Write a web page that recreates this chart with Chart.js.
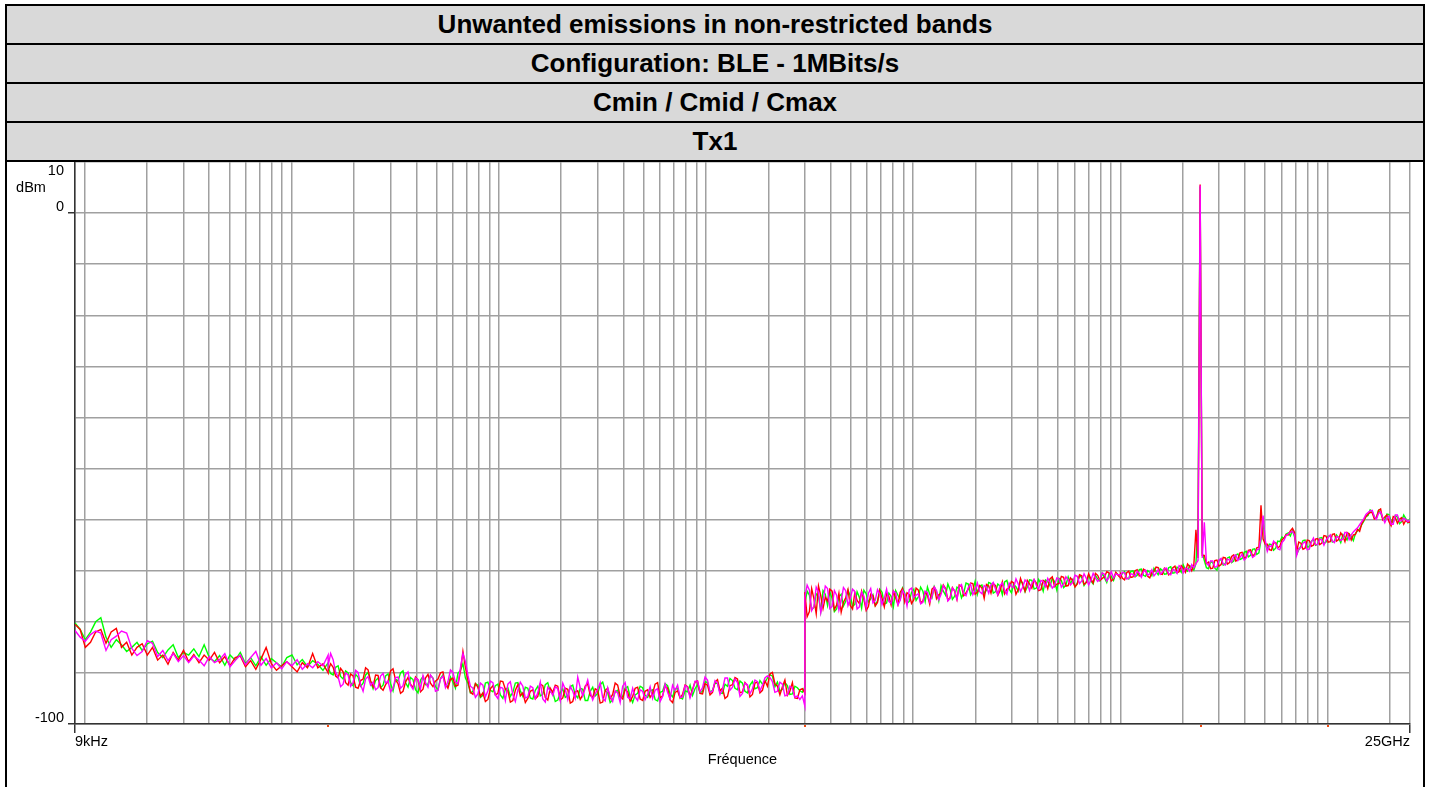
<!DOCTYPE html>
<html>
<head>
<meta charset="utf-8">
<title>Unwanted emissions in non-restricted bands</title>
<script src="https://cdn.jsdelivr.net/npm/chart.js@4.4.0/dist/chart.umd.min.js"></script>
<style>
  html, body { margin: 0; padding: 0; background: #fff; }
  body { width: 1431px; height: 787px; overflow: hidden; position: relative; font-family: "Liberation Sans", Arial, sans-serif; }
  #frame { position: absolute; left: 5px; top: 4px; width: 1420px; box-sizing: border-box; border: 2px solid #000; border-bottom: none; }
  .row { height: 37px; line-height: 37px; border-bottom: 2px solid #000; background: #d9d9d9; text-align: center; font-weight: bold; font-size: 26px; color: #000; white-space: nowrap; }
  #plot { position: relative; width: 1416px; height: 625px; }
</style>
</head>
<body>
<div id="frame">
  <div class="row">Unwanted emissions in non-restricted bands</div>
  <div class="row">Configuration: BLE - 1MBits/s</div>
  <div class="row">Cmin / Cmid / Cmax</div>
  <div class="row">Tx1</div>
  <div id="plot"><canvas id="spectrum"></canvas></div>
</div>
<script>
// Sweep bands (Hz): each band is a log-spaced sweep from start to stop
const BAND_START = [9e3, 150e3, 30e6, 1e9];
const BAND_STOP = [150e3, 30e6, 1e9, 25e9];

// Measured levels (dBm), one array per band and per channel
const GREEN_A = [
  -80.2, -81.5, -83.5, -82.0, -80.0, -79.2, -83.0, -85.0, -83.5, -84.5,
  -85.8, -85.0, -84.0, -85.6, -84.3, -83.8, -86.0, -87.0, -85.5, -84.5,
  -87.0, -86.0, -86.5, -85.3, -86.8, -84.5, -87.0, -87.8, -86.6, -88.5,
  -86.5, -87.5, -86.0, -88.2, -87.0, -88.6, -86.8, -88.5, -87.2, -88.0,
  -88.8, -87.0, -86.5, -88.4, -87.4, -88.8, -87.6, -88.3, -89.5, -88.0
];
const RED_A = [
  -80.5, -81.5, -85.0, -84.0, -82.0, -81.5, -84.2, -82.0, -81.3, -85.0,
  -84.0, -86.5, -85.0, -84.3, -86.5, -85.0, -87.5, -86.5, -88.3, -86.0,
  -87.5, -85.6, -87.8, -86.4, -88.0, -86.5, -87.5, -86.0, -88.0, -86.8,
  -88.6, -87.0, -86.7, -88.8, -87.6, -89.3, -87.3, -85.0, -88.2, -89.5,
  -88.6, -87.8, -88.8, -89.8, -88.0, -89.0, -86.2, -89.0, -88.2, -90.0
];
const MAG_A = [
  -81.7, -83.0, -83.8, -82.5, -81.8, -82.2, -85.6, -83.5, -82.8, -81.8,
  -82.2, -85.2, -86.6, -85.8, -83.7, -84.2, -86.8, -85.6, -87.6, -86.2,
  -87.8, -86.6, -88.0, -86.7, -87.5, -88.6, -86.8, -88.0, -87.4, -86.2,
  -88.8, -87.6, -86.5, -88.4, -87.0, -85.8, -88.5, -87.2, -89.0, -88.0,
  -89.2, -87.8, -88.6, -87.4, -89.3, -88.2, -89.0, -87.8, -88.6, -86.5
];

const GREEN_B = [
  -89.0, -90.1, -90.4, -88.9, -88.6, -90.7, -91.2, -89.6, -90.0, -91.9,
  -92.5, -90.3, -90.8, -92.6, -92.0, -90.4, -89.9, -91.7, -93.1, -91.5,
  -91.0, -92.9, -92.4, -90.6, -90.2, -92.1, -93.5, -91.2, -91.6, -90.0,
  -89.6, -91.9, -92.8, -90.9, -91.3, -93.3, -93.9, -91.4, -90.7, -92.3,
  -92.2, -90.5, -91.0, -92.7, -93.3, -91.1, -90.4, -92.5, -92.6, -90.8,
  -91.8, -93.0, -90.1, -89.5, -88.2, -91.0, -92.0, -93.9, -93.6, -92.1,
  -92.4, -94.8, -94.4, -92.0, -91.8, -93.4, -93.7, -92.5, -92.2, -94.3,
  -95.0, -93.2, -92.9, -94.6, -93.8, -92.0, -91.9, -93.5, -94.6, -92.8,
  -93.0, -94.9, -95.1, -93.4, -92.6, -94.5, -94.2, -92.3, -91.9, -93.7,
  -93.8, -95.6, -95.3, -93.9, -93.1, -94.8, -94.5, -92.7, -92.4, -94.3,
  -94.9, -93.0, -93.2, -95.4, -95.4, -93.6, -92.8, -94.5, -94.0, -92.3,
  -91.8, -93.5, -93.9, -95.8, -95.2, -93.7, -93.4, -94.9, -94.6, -93.0,
  -92.7, -94.6, -95.8, -94.3, -94.0, -92.6, -92.9, -94.4, -94.8, -93.5,
  -93.3, -95.2, -95.5, -93.8, -93.6, -92.1, -92.5, -94.1, -94.7, -93.2,
  -93.0, -94.8, -95.1, -93.5, -93.7, -92.4, -94.4, -93.1, -92.3, -93.9,
  -93.6, -91.7, -91.9, -93.8, -93.4, -92.0, -92.1, -93.9, -94.0, -92.2,
  -92.6, -91.1, -91.5, -93.0, -93.3, -91.6, -92.0, -93.6, -93.9, -92.4,
  -91.7, -93.1, -92.9, -91.5, -92.2, -91.9, -91.0, -90.4, -90.6, -92.7,
  -91.8, -93.6, -93.2, -91.9, -92.5, -94.2, -94.1, -92.6, -92.9, -93.5,
  -93.8, -92.7
];
const RED_B = [
  -89.6, -88.2, -88.9, -90.6, -91.0, -89.1, -89.8, -91.9, -92.4, -90.2,
  -90.6, -92.8, -93.0, -91.5, -91.2, -89.0, -89.4, -91.6, -92.7, -90.4,
  -90.5, -92.9, -93.4, -92.3, -91.7, -89.6, -89.2, -91.4, -92.1, -94.0,
  -93.6, -91.8, -90.9, -92.2, -92.9, -90.8, -91.4, -93.7, -93.2, -91.0,
  -90.3, -92.0, -92.7, -91.6, -91.2, -90.0, -89.8, -92.2, -93.0, -91.3,
  -91.0, -92.6, -92.4, -89.7, -85.8, -88.9, -91.4, -93.8, -94.2, -92.1,
  -92.8, -94.6, -93.9, -95.6, -95.2, -93.1, -92.5, -94.3, -94.0, -91.6,
  -91.7, -93.2, -93.5, -95.7, -95.4, -93.4, -92.3, -94.5, -93.9, -95.8,
  -95.0, -93.6, -93.3, -95.1, -94.6, -92.2, -92.5, -94.8, -95.3, -93.0,
  -93.8, -92.4, -92.6, -95.3, -94.9, -93.0, -93.2, -95.9, -95.6, -93.7,
  -93.5, -95.2, -94.3, -92.6, -92.1, -94.4, -94.8, -93.1, -93.4, -95.9,
  -95.7, -93.4, -93.0, -95.0, -94.2, -92.0, -92.4, -94.6, -95.1, -93.2,
  -93.7, -95.5, -94.6, -93.0, -92.8, -95.1, -95.4, -93.6, -93.3, -94.8,
  -94.0, -92.2, -91.9, -94.9, -94.5, -92.6, -93.0, -95.3, -95.8, -93.8,
  -93.5, -94.9, -94.2, -92.4, -92.7, -94.6, -93.2, -91.8, -91.6, -94.0,
  -94.1, -92.1, -92.4, -94.3, -93.8, -91.8, -91.3, -93.5, -93.0, -95.0,
  -94.6, -92.5, -92.3, -90.9, -91.2, -93.9, -93.7, -91.9, -92.5, -94.7,
  -94.2, -92.0, -91.8, -93.9, -93.4, -91.5, -92.6, -90.2, -89.9, -92.1,
  -92.6, -94.3, -92.7, -91.4, -94.4, -93.6, -91.9, -94.9, -95.0, -93.3,
  -93.1, -94.0
];
const MAG_B = [
  -88.6, -86.2, -87.4, -89.9, -90.8, -92.7, -92.2, -90.0, -90.4, -92.6,
  -91.9, -89.5, -89.9, -92.3, -93.6, -91.2, -90.7, -92.4, -91.8, -93.3,
  -92.9, -90.6, -90.1, -92.0, -91.6, -93.7, -93.0, -90.9, -90.8, -93.0,
  -92.5, -90.3, -89.8, -92.4, -93.2, -91.0, -91.3, -93.1, -90.5, -91.9,
  -92.8, -90.4, -91.1, -93.6, -93.4, -91.2, -90.6, -92.9, -91.7, -89.4,
  -89.9, -91.8, -92.1, -89.0, -86.2, -87.8, -90.5, -92.6, -93.0, -94.8,
  -94.1, -92.0, -92.4, -94.7, -93.5, -91.6, -91.9, -94.3, -95.0, -92.8,
  -93.0, -95.4, -92.2, -91.7, -94.3, -95.6, -93.4, -91.8, -92.6, -94.9,
  -94.7, -92.6, -92.9, -95.0, -93.9, -91.8, -95.1, -95.7, -92.8, -93.5,
  -94.4, -92.7, -93.1, -95.4, -92.0, -93.2, -95.2, -92.6, -93.6, -95.0,
  -90.8, -92.9, -94.5, -93.0, -91.4, -93.7, -95.3, -94.1, -93.2, -91.9,
  -94.9, -95.5, -92.9, -94.6, -95.6, -93.5, -93.9, -95.8, -92.6, -91.9,
  -94.8, -95.1, -93.0, -94.7, -95.4, -93.3, -93.6, -95.2, -94.2, -92.7,
  -95.0, -93.4, -93.1, -95.6, -94.6, -92.2, -93.8, -95.1, -92.4, -93.4,
  -92.4, -94.8, -94.7, -92.5, -92.8, -94.9, -93.5, -91.6, -91.6, -93.7,
  -92.9, -90.8, -91.4, -93.8, -93.6, -91.5, -92.0, -94.2, -93.2, -91.0,
  -91.0, -93.4, -92.8, -91.2, -91.9, -94.6, -94.0, -92.0, -92.3, -94.1,
  -93.1, -91.4, -91.7, -93.5, -92.4, -91.0, -90.6, -90.9, -91.7, -93.8,
  -93.6, -91.8, -92.2, -94.5, -94.3, -92.6, -93.0, -94.8, -94.5, -95.2,
  -94.5, -96.5
];

const GREEN_C = [
  -76.5, -74.0, -74.8, -77.6, -77.2, -74.5, -75.0, -77.9, -73.9, -74.6,
  -76.8, -74.2, -75.4, -78.0, -77.5, -75.1, -74.6, -76.9, -76.0, -73.8,
  -74.9, -77.0, -76.6, -74.1, -75.2, -77.3, -73.8, -74.5, -76.1, -75.5,
  -74.7, -76.8, -75.9, -73.6, -74.2, -76.5, -76.3, -74.4, -75.0, -77.0,
  -73.9, -74.8, -75.6, -73.4, -74.4, -76.4, -76.0, -74.2, -73.6, -75.8,
  -75.1, -73.2, -74.0, -76.0, -73.2, -74.6, -75.3, -73.1, -74.1, -75.9,
  -72.9, -74.0, -74.8, -72.6, -73.7, -75.6, -75.0, -73.2, -73.5, -75.3,
  -74.3, -72.4, -72.6, -74.7, -73.9, -72.1, -74.6, -73.0, -72.8, -74.5,
  -73.8, -72.3, -72.5, -74.4, -74.1, -72.6, -73.0, -74.7, -72.2, -71.9,
  -73.6, -74.3, -72.7, -73.1, -74.0, -72.0, -72.4, -74.1, -73.2, -71.8,
  -71.9, -73.6, -73.4, -71.7, -72.6, -74.0, -71.8, -72.1, -73.0, -71.5,
  -72.1, -73.8, -71.5, -71.9, -73.3, -72.8, -71.2, -72.5, -71.7, -73.1,
  -72.5, -71.0, -71.3, -72.9, -72.2, -70.8, -72.0, -72.6, -70.9, -71.6,
  -72.0, -70.5, -71.4, -72.3, -70.6, -71.1, -71.9, -70.4, -70.8, -71.2
];
const RED_C = [
  -74.2, -79.0, -78.0, -73.5, -75.5, -78.4, -73.0, -74.9, -77.4, -75.2,
  -75.9, -73.6, -74.0, -77.6, -76.7, -74.4, -78.1, -76.2, -75.3, -73.7,
  -76.8, -77.5, -74.3, -75.8, -76.4, -74.0, -75.6, -77.8, -77.0, -74.6,
  -74.9, -76.9, -76.2, -73.9, -75.4, -77.1, -74.5, -75.0, -76.7, -74.1,
  -75.3, -76.6, -74.2, -73.5, -76.1, -74.3, -74.7, -76.4, -75.7, -73.4,
  -73.8, -76.3, -75.9, -74.2, -74.8, -76.5, -73.6, -73.2, -75.5, -74.7,
  -74.4, -72.8, -73.5, -75.8, -75.2, -73.3, -74.0, -75.6, -72.8, -73.1,
  -74.9, -74.3, -73.6, -72.4, -72.5, -74.6, -74.2, -72.9, -73.4, -75.4,
  -72.7, -73.0, -74.4, -72.5, -72.9, -74.8, -73.9, -72.2, -74.5, -73.6,
  -73.4, -72.1, -72.4, -74.6, -73.7, -71.5, -72.8, -74.0, -71.9, -72.6,
  -73.4, -71.8, -72.4, -73.9, -73.7, -71.9, -72.2, -73.5, -71.6, -71.2,
  -73.1, -72.6, -72.5, -71.1, -71.3, -73.0, -72.9, -71.4, -71.9, -73.2,
  -72.6, -70.8, -71.0, -72.7, -72.3, -70.6, -71.6, -72.4, -70.5, -70.9,
  -71.9, -71.5, -71.2, -70.2, -70.4, -72.0, -71.6, -70.3, -70.9, -71.4
];
const MAG_C = [
  -75.2, -72.8, -73.8, -77.8, -76.9, -73.2, -74.1, -78.2, -76.0, -73.0,
  -73.5, -77.4, -77.0, -73.9, -74.8, -77.7, -75.9, -73.3, -73.9, -76.8,
  -75.5, -73.6, -74.1, -77.5, -77.1, -74.2, -75.0, -77.2, -74.4, -73.5,
  -76.3, -75.8, -73.7, -74.6, -76.6, -75.4, -73.6, -76.0, -76.4, -74.0,
  -74.3, -76.7, -75.8, -73.9, -74.6, -76.9, -73.7, -73.4, -75.2, -74.8,
  -74.5, -76.5, -76.2, -74.0, -74.3, -76.1, -75.0, -73.2, -73.9, -75.7,
  -74.6, -72.9, -73.7, -75.9, -75.4, -73.4, -73.9, -75.6, -73.1, -72.7,
  -74.5, -74.9, -73.3, -72.6, -74.7, -73.8, -72.4, -74.1, -74.5, -72.9,
  -73.2, -74.4, -72.8, -72.3, -73.6, -74.7, -72.9, -72.4, -73.8, -74.6,
  -72.4, -73.1, -73.3, -71.6, -72.6, -74.1, -73.2, -71.8, -72.3, -73.9,
  -72.5, -71.7, -72.9, -73.6, -71.9, -72.1, -73.1, -71.5, -72.3, -73.4,
  -72.9, -71.4, -71.6, -73.2, -72.6, -71.2, -71.8, -72.8, -72.3, -70.9,
  -71.1, -72.5, -72.0, -70.6, -71.5, -72.8, -71.9, -70.5, -71.4, -72.1,
  -71.7, -70.4, -70.7, -72.0, -71.3, -70.2, -71.4, -70.6, -70.8, -70.8
];

const GREEN_D = [
  -71.3, -70.5, -70.2, -71.4, -71.6, -70.1, -70.0, -71.2, -70.9, -69.8,
  -69.7, -70.9, -71.1, -70.0, -70.3, -71.0, -69.5, -70.2, -70.8, -69.6,
  -69.9, -70.7, -70.6, -69.4, -69.2, -70.5, -70.4, -69.3, -69.6, -70.3,
  -68.9, -69.8, -70.1, -69.0, -69.3, -69.9, -68.6, -61.0, 5.2, -66.5,
  -68.0, -69.4, -69.6, -68.2, -68.4, -69.5, -69.9, -68.0, -67.8, -68.9,
  -68.6, -67.5, -67.3, -68.4, -68.1, -66.9, -66.7, -67.8, -67.6, -66.4,
  -66.2, -67.3, -67.0, -65.8, -65.7, -66.8, -66.5, -64.0, -60.5, -64.6,
  -65.9, -64.8, -64.9, -66.0, -65.6, -64.2, -64.3, -63.4, -63.7, -62.8,
  -62.6, -63.2, -62.1, -63.4, -66.8, -65.9, -65.2, -64.1, -64.0, -65.4,
  -65.3, -64.2, -63.9, -65.0, -64.8, -63.6, -63.5, -64.7, -64.4, -63.3,
  -63.1, -64.4, -64.2, -63.0, -63.6, -64.5, -62.9, -63.4, -64.0, -62.8,
  -63.3, -64.1, -62.7, -62.2, -61.8, -61.0, -60.3, -59.4, -59.2, -58.1,
  -58.4, -59.5, -59.6, -58.2, -58.7, -59.8, -60.1, -58.9, -59.0, -60.3,
  -60.6, -59.2, -59.5, -60.8, -60.4, -59.1, -59.8, -60.6, -59.8
];
const RED_D = [
  -70.6, -71.5, -71.8, -70.4, -70.1, -71.3, -71.2, -70.0, -69.8, -71.0,
  -70.9, -69.7, -70.0, -71.1, -71.4, -70.3, -70.2, -69.3, -69.4, -70.6,
  -70.7, -69.5, -69.8, -70.8, -70.5, -69.4, -69.1, -70.4, -70.2, -69.0,
  -69.5, -70.3, -68.7, -69.2, -70.0, -68.9, -62.0, -67.5, 5.6, -67.0,
  -67.0, -68.6, -68.3, -69.6, -69.5, -68.0, -67.9, -69.1, -68.8, -67.4,
  -67.5, -68.7, -68.4, -67.2, -66.9, -68.1, -67.8, -66.5, -66.4, -67.6,
  -67.3, -66.0, -65.9, -67.1, -66.8, -65.5, -65.4, -57.2, -63.8, -64.8,
  -64.8, -65.9, -66.0, -64.6, -64.5, -65.5, -65.2, -63.9, -63.6, -62.9,
  -63.0, -62.2, -61.7, -62.5, -66.2, -64.4, -64.6, -65.8, -65.6, -64.0,
  -64.1, -65.2, -65.0, -63.8, -63.7, -64.9, -64.6, -63.1, -63.2, -64.4,
  -64.3, -62.9, -62.8, -64.2, -63.9, -62.6, -63.2, -64.3, -62.5, -62.8,
  -64.0, -63.0, -62.9, -61.9, -62.3, -60.8, -60.1, -59.4, -58.9, -58.6,
  -58.6, -59.9, -59.7, -58.2, -57.9, -60.0, -59.5, -59.1, -60.4, -61.2,
  -59.4, -59.6, -60.7, -59.9, -59.6, -60.9, -60.1, -60.5, -60.5
];
const MAG_D = [
  -71.0, -70.3, -70.4, -71.6, -71.5, -70.6, -70.7, -71.1, -70.1, -70.5,
  -71.3, -70.2, -69.9, -70.9, -70.6, -69.8, -71.0, -70.5, -69.8, -70.7,
  -70.3, -69.6, -69.5, -70.6, -70.8, -69.7, -69.9, -70.5, -69.0, -69.3,
  -70.4, -69.5, -69.6, -70.1, -68.8, -69.4, -68.6, -68.0, 5.4, -67.5,
  -60.5, -68.4, -69.0, -68.1, -68.1, -69.3, -69.2, -67.9, -67.6, -68.7,
  -68.9, -67.7, -67.9, -68.3, -67.2, -66.9, -68.0, -67.4, -66.8, -67.9,
  -67.5, -66.2, -66.3, -67.4, -67.1, -65.9, -65.8, -63.5, -59.2, -63.9,
  -66.2, -65.1, -65.3, -64.2, -64.7, -65.7, -65.9, -64.5, -64.0, -63.1,
  -62.8, -62.5, -62.3, -63.0, -67.0, -65.6, -65.5, -64.6, -64.3, -65.9,
  -65.8, -64.4, -63.6, -64.9, -64.9, -63.8, -64.0, -65.0, -64.0, -63.5,
  -63.0, -64.2, -64.5, -63.3, -63.4, -64.1, -63.8, -62.5, -62.6, -63.9,
  -63.0, -62.4, -62.0, -61.6, -61.0, -60.4, -59.8, -59.0, -58.6, -58.3,
  -58.2, -59.4, -59.9, -58.8, -58.5, -59.6, -60.6, -59.6, -59.3, -60.9,
  -60.9, -59.1, -59.1, -60.3, -60.2, -59.7, -60.0, -60.4, -60.0
];

// Axis range and labels
const X_MIN = 9e3;
const X_MAX = 25e9;
const X_LABELS = { 9e3: '9kHz', 25e9: '25GHz' };
const Y_LABELS = [10, 0, -100];
const MARKER_FREQS = [150e3, 30e6, 2.44e9, 10e9];

const FONT = '"Liberation Sans", Arial, sans-serif';

// Join the band sweeps of one channel into a single trace
function sweep(bands) {
  const pts = [];
  bands.forEach((levels, b) => {
    const n = levels.length;
    const ratio = BAND_STOP[b] / BAND_START[b];
    levels.forEach((v, i) => {
      pts.push({ x: BAND_START[b] * Math.pow(ratio, i / (n - 1)), y: v });
    });
  });
  return pts;
}

// 1..9 x 10^n grid for the log frequency axis
function logGrid() {
  const out = [];
  for (let e = 3; e <= 10; e++) {
    for (let m = 1; m <= 9; m++) {
      const f = m * Math.pow(10, e);
      if (f >= X_MIN && f < X_MAX) out.push(f);
    }
  }
  out.push(X_MAX);
  return out;
}

// y labels, unit and band markers drawn beside the axes
const axisExtras = {
  id: 'axisExtras',
  afterDraw(chart) {
    const { ctx, chartArea } = chart;
    const ys = chart.scales.y;
    const xs = chart.scales.x;
    ctx.save();
    ctx.font = '14.5px ' + FONT;
    ctx.fillStyle = '#000';
    ctx.textAlign = 'right';
    ctx.textBaseline = 'alphabetic';
    Y_LABELS.forEach(v => {
      const py = Math.max(ys.getPixelForValue(v) - 2, chartArea.top + 13);
      ctx.fillText(String(v), chartArea.left - 11, py);
    });
    ctx.textAlign = 'center';
    ctx.fillText('dBm', 24, chartArea.top + 30);

    ctx.fillStyle = '#f04a10';
    MARKER_FREQS.forEach(f => {
      const px = Math.round(xs.getPixelForValue(f));
      ctx.fillRect(px - 1, chartArea.bottom + 1, 2, 2);
    });
    ctx.restore();
  }
};

const endTick = v => v === X_MIN || v === X_MAX;
const labelledY = v => v === 0 || v === -100;

new Chart(document.getElementById('spectrum'), {
  type: 'line',
  data: {
    datasets: [
      { label: 'Cmax', data: sweep([MAG_A, MAG_B, MAG_C, MAG_D]), borderColor: '#ff00ff' },
      { label: 'Cmid', data: sweep([RED_A, RED_B, RED_C, RED_D]), borderColor: '#ff0000' },
      { label: 'Cmin', data: sweep([GREEN_A, GREEN_B, GREEN_C, GREEN_D]), borderColor: '#00ff00' }
    ]
  },
  options: {
    responsive: true,
    maintainAspectRatio: false,
    animation: false,
    events: [],
    layout: { padding: { left: 0, right: 13, top: 0, bottom: 0 } },
    elements: {
      line: { borderWidth: 1.4, tension: 0, fill: false },
      point: { radius: 0 }
    },
    plugins: {
      legend: { display: false },
      tooltip: { enabled: false },
      title: { display: false }
    },
    scales: {
      x: {
        type: 'logarithmic',
        min: X_MIN,
        max: X_MAX,
        afterBuildTicks: s => { s.ticks = logGrid().map(v => ({ value: v })); },
        afterFit: s => { s.height = 63; },
        ticks: {
          autoSkip: false,
          maxRotation: 0,
          minRotation: 0,
          align: 'inner',
          padding: 0,
          color: '#000',
          font: { family: FONT, size: 14.5 },
          callback: v => X_LABELS[v] || ''
        },
        grid: {
          color: '#a0a0a0',
          lineWidth: 1.5,
          tickLength: 9,
          tickWidth: 1.5,
          tickColor: c => (c.tick && endTick(c.tick.value)) ? '#333' : 'rgba(0,0,0,0)'
        },
        border: { color: '#333', width: 1.5 },
        title: {
          display: true,
          text: 'Fréquence',
          color: '#000',
          font: { family: FONT, size: 14.5 },
          padding: { top: 0, bottom: 18 }
        }
      },
      y: {
        type: 'linear',
        min: -100,
        max: 10,
        afterFit: s => { s.width = 68; },
        ticks: { display: false, stepSize: 10 },
        grid: {
          color: '#a0a0a0',
          lineWidth: 1.5,
          tickLength: 7,
          tickWidth: 1.5,
          tickColor: c => (c.tick && labelledY(c.tick.value)) ? '#333' : 'rgba(0,0,0,0)'
        },
        border: { color: '#333', width: 1.5 }
      }
    }
  },
  plugins: [axisExtras]
});
</script>
</body>
</html>
